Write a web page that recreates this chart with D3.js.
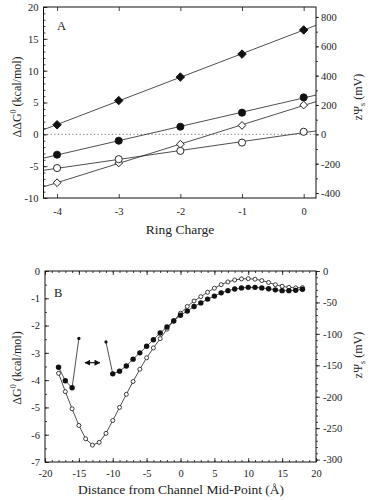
<!DOCTYPE html>
<html>
<head>
<meta charset="utf-8">
<script src="https://cdn.jsdelivr.net/npm/d3@7.9.0/dist/d3.min.js"></script>
<style>
  body { margin: 0; background: #fff; }
  svg { display: block; }
  text { font-family: "Liberation Serif", "Times New Roman", serif; fill: #222; }
</style>
</head>
<body>
<svg id="chart" width="371" height="500"></svg>
<script>
// kcal/mol -> mV for the right hand axes
const KCAL_TO_MV = 43.4;

// Panel A data
const ringCharge = [-4, -3, -2, -1, 0];
const filledDiamond = [1.5, 5.3, 9.0, 12.6, 16.4];
const filledCircle = [-3.2, -1.0, 1.2, 3.4, 5.8];
const openDiamond = [-7.6, -4.5, -1.55, 1.4, 4.6];
const openCircle = [-5.3, -3.9, -2.6, -1.3, 0.4];
const ticksA_y = [-10, -5, 0, 5, 10, 15, 20];
const ticksA_mv = [-400, -200, 0, 200, 400, 600, 800];

// Panel B data
const distance = [-18, -17, -16, -15, -14, -13, -12, -11, -10, -9, -8, -7, -6, -5, -4, -3, -2, -1, 0,
                  1, 2, 3, 4, 5, 6, 7, 8, 9, 10, 11, 12, 13, 14, 15, 16, 17, 18];
const openB = [-3.75, -4.42, -5.05, -5.66, -6.15, -6.38, -6.28, -5.95, -5.48, -5.0, -4.52, -4.05, -3.6,
               -3.18, -2.82, -2.48, -2.13, -1.82, -1.55, -1.3, -1.1, -0.94, -0.78, -0.63, -0.5, -0.4,
               -0.33, -0.29, -0.28, -0.3, -0.35, -0.42, -0.5, -0.56, -0.6, -0.62, -0.61];
// filled curve is broken in two pieces; first/last point of each piece is an end mark
const filledB_left_x = [-18, -17, -16, -15];
const filledB_left = [-3.53, -4.02, -4.28, -2.47];
const filledB_right_x = [-11, -10, -9, -8, -7, -6, -5, -4, -3, -2, -1, 0, 1, 2, 3, 4, 5, 6, 7, 8,
                         9, 10, 11, 12, 13, 14, 15, 16, 17, 18];
const filledB_right = [-2.6, -3.77, -3.67, -3.48, -3.23, -3.0, -2.76, -2.52, -2.27, -2.05, -1.83, -1.62,
                       -1.47, -1.3, -1.17, -1.03, -0.92, -0.8, -0.72, -0.66, -0.62, -0.6, -0.6, -0.62,
                       -0.65, -0.69, -0.72, -0.72, -0.71, -0.67];
const arrowX = [-14.1, -11.9];
const arrowY = -3.36;
const ticksB_x = [-20, -15, -10, -5, 0, 5, 10, 15, 20];
const ticksB_y = [0, -1, -2, -3, -4, -5, -6, -7];
const ticksB_mv = [0, -50, -100, -150, -200, -250, -300];

const svg = d3.select('#chart');
svg.append('rect').attr('width', 371).attr('height', 500).attr('fill', '#fff');

const defs = svg.append('defs');
defs.append('marker')
  .attr('id', 'head')
  .attr('viewBox', '0 0 10 10')
  .attr('refX', 9).attr('refY', 5)
  .attr('markerWidth', 5).attr('markerHeight', 5)
  .attr('orient', 'auto-start-reverse')
  .append('path').attr('d', 'M0,0L10,5L0,10z').attr('fill', '#111');

function styleAxis(g, fontSize) {
  g.select('.domain').remove();
  g.selectAll('line').attr('stroke', '#111').attr('stroke-width', 0.8);
  g.selectAll('text')
    .attr('font-size', fontSize)
    .attr('font-family', '"Liberation Serif", "Times New Roman", serif')
    .attr('fill', '#333');
}

function frame(x0, x1, y0, y1) {
  svg.append('rect')
    .attr('x', x0).attr('y', y0)
    .attr('width', x1 - x0).attr('height', y1 - y0)
    .attr('fill', 'none').attr('stroke', '#111').attr('stroke-width', 1);
}

// least squares line through a series
function fit(xs, ys) {
  const mx = d3.mean(xs), my = d3.mean(ys);
  const b = d3.sum(xs, (x, i) => (x - mx) * (ys[i] - my)) / d3.sum(xs, x => (x - mx) ** 2);
  return x => my + b * (x - mx);
}

// ---------- Panel A ----------
const xA = d3.scaleLinear().domain([-4.22, 0.2]).range([43.5, 316]);
const yA = d3.scaleLinear().domain([-10, 20]).range([198, 7]);
const yA2 = d3.scaleLinear().domain([-10 * KCAL_TO_MV, 20 * KCAL_TO_MV]).range([198, 7]);

const gA = svg.append('g');

gA.append('line')
  .attr('x1', xA.range()[0]).attr('x2', xA.range()[1])
  .attr('y1', yA(0)).attr('y2', yA(0))
  .attr('stroke', '#666').attr('stroke-width', 0.9).attr('stroke-dasharray', '1.2,2.4');

gA.append('g').attr('transform', 'translate(0,198)')
  .call(d3.axisBottom(xA).tickValues(ringCharge).tickSize(-4).tickPadding(10).tickFormat(d => d))
  .call(g => styleAxis(g, 10.5));
gA.append('g').attr('transform', 'translate(0,7)')
  .call(d3.axisTop(xA).tickValues(ringCharge).tickSize(-4).tickFormat(''))
  .call(g => styleAxis(g, 10.5));
gA.append('g').attr('transform', 'translate(43.5,0)')
  .call(d3.axisLeft(yA).tickValues(d3.range(-10, 21, 1)).tickSize(-2).tickFormat(''))
  .call(g => styleAxis(g, 10.5));
gA.append('g').attr('transform', 'translate(43.5,0)')
  .call(d3.axisLeft(yA).tickValues(ticksA_y).tickSize(-4).tickPadding(5).tickFormat(d => d))
  .call(g => styleAxis(g, 10.5));
gA.append('g').attr('transform', 'translate(316,0)')
  .call(d3.axisRight(yA2).tickValues(d3.range(-400, 801, 100)).tickSize(2).tickFormat(''))
  .call(g => styleAxis(g, 10.5));
gA.append('g').attr('transform', 'translate(316,0)')
  .call(d3.axisRight(yA2).tickValues(ticksA_mv).tickSize(3).tickPadding(2).tickFormat(d => d))
  .call(g => styleAxis(g, 10.5));

frame(43.5, 316, 7, 198);

const seriesA = [
  { values: filledDiamond, shape: d3.symbolSquare, size: 36, rotate: 45, fill: '#111' },
  { values: filledCircle, shape: d3.symbolCircle, size: 40, rotate: 0, fill: '#111' },
  { values: openDiamond, shape: d3.symbolSquare, size: 30, rotate: 45, fill: '#fff' },
  { values: openCircle, shape: d3.symbolCircle, size: 40, rotate: 0, fill: '#fff' }
];

seriesA.forEach(s => {
  const f = fit(ringCharge, s.values);
  const [d0, d1] = xA.domain();
  gA.append('line')
    .attr('x1', xA(d0)).attr('y1', yA(f(d0)))
    .attr('x2', xA(d1)).attr('y2', yA(f(d1)))
    .attr('stroke', '#222').attr('stroke-width', 0.8);
});

seriesA.forEach(s => {
  gA.selectAll(null)
    .data(s.values)
    .join('path')
    .attr('d', d3.symbol(s.shape, s.size))
    .attr('transform', (d, i) => `translate(${xA(ringCharge[i])},${yA(d)}) rotate(${s.rotate})`)
    .attr('fill', s.fill)
    .attr('stroke', '#111')
    .attr('stroke-width', 0.9);
});

gA.append('text').attr('x', 57).attr('y', 30).attr('font-size', 12.5).text('A');

gA.append('text')
  .attr('x', 180).attr('y', 234)
  .attr('text-anchor', 'middle').attr('font-size', 13.5)
  .text('Ring Charge');

const labA = gA.append('text')
  .attr('transform', 'translate(21,97) rotate(-90)')
  .attr('text-anchor', 'middle').attr('font-size', 12);
labA.append('tspan').text('ΔΔG');
labA.append('tspan').attr('font-size', 8).attr('dy', -5).text('0');
labA.append('tspan').attr('dy', 5).text(' (kcal/mol)');

function rightLabel(g, cx, cy) {
  const t = g.append('text')
    .attr('transform', `translate(${cx},${cy}) rotate(-90)`)
    .attr('text-anchor', 'middle').attr('font-size', 12);
  t.append('tspan').text('zΨ');
  t.append('tspan').attr('font-size', 8).attr('dy', 3).text('s');
  t.append('tspan').attr('dy', -3).text(' (mV)');
}
rightLabel(gA, 362, 97);

// ---------- Panel B ----------
const xB = d3.scaleLinear().domain([-20, 20]).range([45, 316]);
const yB = d3.scaleLinear().domain([-7, 0]).range([462, 271]);
const yB2 = d3.scaleLinear().domain([-7 * KCAL_TO_MV, 0]).range([462, 271]);

const gB = svg.append('g');

gB.append('g').attr('transform', 'translate(0,462)')
  .call(d3.axisBottom(xB).tickValues(d3.range(-20, 21, 1)).tickSize(-2).tickFormat(''))
  .call(g => styleAxis(g, 10.5));
gB.append('g').attr('transform', 'translate(0,462)')
  .call(d3.axisBottom(xB).tickValues(ticksB_x).tickSize(-4).tickPadding(8).tickFormat(d => d))
  .call(g => styleAxis(g, 10.5));
gB.append('g').attr('transform', 'translate(0,271)')
  .call(d3.axisTop(xB).tickValues(d3.range(-20, 21, 1)).tickSize(-2).tickFormat(''))
  .call(g => styleAxis(g, 10.5));
gB.append('g').attr('transform', 'translate(0,271)')
  .call(d3.axisTop(xB).tickValues(ticksB_x).tickSize(-4).tickFormat(''))
  .call(g => styleAxis(g, 10.5));
gB.append('g').attr('transform', 'translate(45,0)')
  .call(d3.axisLeft(yB).tickValues(d3.range(-7, 0.01, 0.5)).tickSize(-2).tickFormat(''))
  .call(g => styleAxis(g, 10.5));
gB.append('g').attr('transform', 'translate(45,0)')
  .call(d3.axisLeft(yB).tickValues(ticksB_y).tickSize(-4).tickPadding(5).tickFormat(d => d))
  .call(g => styleAxis(g, 10.5));
gB.append('g').attr('transform', 'translate(316,0)')
  .call(d3.axisRight(yB2).tickValues(d3.range(-300, 1, 10)).tickSize(2).tickFormat(''))
  .call(g => styleAxis(g, 10.5));
gB.append('g').attr('transform', 'translate(316,0)')
  .call(d3.axisRight(yB2).tickValues(ticksB_mv).tickSize(4).tickPadding(3).tickFormat(d => d))
  .call(g => styleAxis(g, 10.5));

frame(45, 316, 271, 462);

const lineB = d3.line().x(d => xB(d[0])).y(d => yB(d[1]));

const openPts = distance.map((x, i) => [x, openB[i]]);
const leftPts = filledB_left_x.map((x, i) => [x, filledB_left[i]]);
const rightPts = filledB_right_x.map((x, i) => [x, filledB_right[i]]);

[openPts, leftPts, rightPts].forEach(pts => {
  gB.append('path')
    .attr('d', lineB(pts))
    .attr('fill', 'none').attr('stroke', '#222').attr('stroke-width', 0.8);
});

gB.selectAll(null)
  .data(openPts)
  .join('circle')
  .attr('cx', d => xB(d[0])).attr('cy', d => yB(d[1]))
  .attr('r', 2)
  .attr('fill', '#fff').attr('stroke', '#111').attr('stroke-width', 0.8);

const filledPts = leftPts.concat(rightPts);
const endMarks = [leftPts[leftPts.length - 1], rightPts[0]];
gB.selectAll(null)
  .data(filledPts)
  .join('circle')
  .attr('cx', d => xB(d[0])).attr('cy', d => yB(d[1]))
  .attr('r', d => endMarks.includes(d) ? 1.6 : 2.7)
  .attr('fill', '#111');

gB.append('line')
  .attr('x1', xB(arrowX[0])).attr('x2', xB(arrowX[1]))
  .attr('y1', yB(arrowY)).attr('y2', yB(arrowY))
  .attr('stroke', '#111').attr('stroke-width', 1.2)
  .attr('marker-start', 'url(#head)').attr('marker-end', 'url(#head)');

gB.append('text').attr('x', 54).attr('y', 297).attr('font-size', 12.5).text('B');

gB.append('text')
  .attr('x', 181).attr('y', 494)
  .attr('text-anchor', 'middle').attr('font-size', 13.5)
  .text('Distance from Channel Mid-Point (Å)');

const labB = gB.append('text')
  .attr('transform', 'translate(21,368) rotate(-90)')
  .attr('text-anchor', 'middle').attr('font-size', 12);
labB.append('tspan').text('ΔG');
labB.append('tspan').attr('font-size', 8).attr('dy', -5).text('0');
labB.append('tspan').attr('dy', 5).text(' (kcal/mol)');

rightLabel(gB, 362, 355);
</script>
</body>
</html>
